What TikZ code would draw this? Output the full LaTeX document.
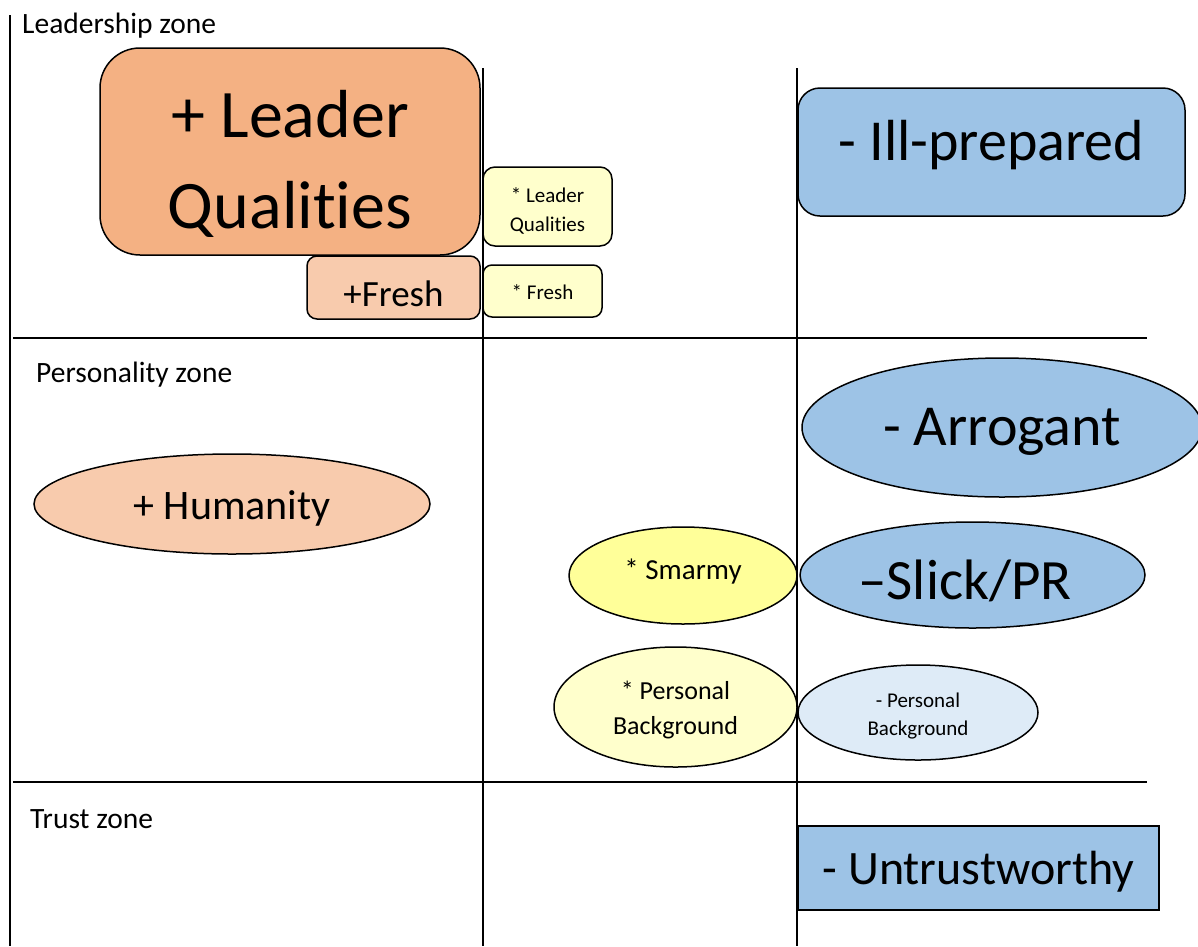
\documentclass[tikz,border=0pt]{standalone}
\usepackage{fontspec}
\setmainfont{Carlito}[Ligatures={TeX,NoCommon}]
\usetikzlibrary{shapes.geometric}
\definecolor{orangeA}{HTML}{F4B183}
\definecolor{orangeB}{HTML}{F8CBAD}
\definecolor{yellowA}{HTML}{FFFF99}
\definecolor{yellowB}{HTML}{FFFFCC}
\definecolor{blueA}{HTML}{9DC3E6}
\definecolor{blueB}{HTML}{DEEBF7}
\newcommand{\myfs}[2]{\fontsize{#1}{#2}\selectfont}
\begin{document}
\begin{tikzpicture}[x=1pt,y=-1pt,
  vline/.style={line width=1.4pt},
  hline/.style={line width=1.8pt},
  shapebox/.style={draw=black, line width=1.5pt, inner sep=0pt, align=center, text depth=0pt},
  rbox/.style={shapebox, rectangle, rounded corners=#1},
  oval/.style={shapebox, ellipse},
  zonelabel/.style={anchor=base west, font=\myfs{29.5}{34}, inner sep=0pt}]
\useasboundingbox (0,0) rectangle (1198,946);
\clip (0,0) rectangle (1198,946);
\fill[white] (0,0) rectangle (1198,946);
% grid
\draw[vline] (10,15) -- (10,946);
\draw[vline] (483,68) -- (483,946);
\draw[vline] (797,68) -- (797,946);
\draw[hline] (13,338) -- (1147,338);
\draw[hline] (13,782) -- (1147,782);
% zone labels
\node[zonelabel] (lz) at (22,33) {Leadership zone};
\node[zonelabel] (pz) at (36,382) {Personality zone};
\node[zonelabel] (tz) at (30,828) {Trust zone};
% leadership zone
\node[rbox=40pt, fill=orangeA, minimum width=380, minimum height=207, text height=153,
      font=\myfs{68}{91}] (lq) at (290,151.5) {+ Leader\\Qualities};
\node[rbox=10pt, fill=orangeB, minimum width=173, minimum height=63, text height=37,
      font=\myfs{37}{44}] (fr) at (393.5,287.5) {+Fresh};
\node[rbox=12pt, fill=yellowB, minimum width=129, minimum height=79, text height=49,
      font=\myfs{21}{29}] (slq) at (547.5,206.5) {* Leader\\Qualities};
\node[rbox=9pt, fill=yellowB, minimum width=119, minimum height=52, text height=16,
      font=\myfs{21}{25}] (sfr) at (542.5,291) {* Fresh};
\node[rbox=22pt, fill=blueA, minimum width=387, minimum height=128, text height=16,
      font=\myfs{58}{66}] (ill) at (991.5,152) {- Ill-prepared};
% personality zone
\node[oval, fill=blueA, minimum width=400, minimum height=139, text height=35,
      font=\myfs{58}{66}] (arr) at (1002,427.5) {- Arrogant};
\node[oval, fill=orangeB, minimum width=396, minimum height=100, text height=30,
      font=\myfs{42}{48}] (hum) at (232,504) {+ Humanity};
\node[oval, fill=yellowA, minimum width=228, minimum height=97, text height=7,
      font=\myfs{29}{34}] (sma) at (683,575.5) {* Smarmy};
\node[oval, fill=blueA, minimum width=345, minimum height=106, text height=48,
      font=\myfs{57}{64}] (sli) at (972.5,575) {–Slick/PR\hspace*{15pt}};
\node[oval, fill=yellowB, minimum width=243, minimum height=120, text height=54,
      font=\myfs{26}{35}] (spb) at (675.5,707) {* Personal\\Background};
\node[oval, fill=blueB, minimum width=240, minimum height=95, text height=45,
      font=\myfs{21}{28}] (mpb) at (918,712.5) {- Personal\\Background};
% trust zone
\node[shapebox, rectangle, fill=blueA, minimum width=361, minimum height=84, text height=32,
      font=\myfs{48}{54}] (unt) at (978.5,868) {- Untrustworthy};
\end{tikzpicture}
\end{document}
